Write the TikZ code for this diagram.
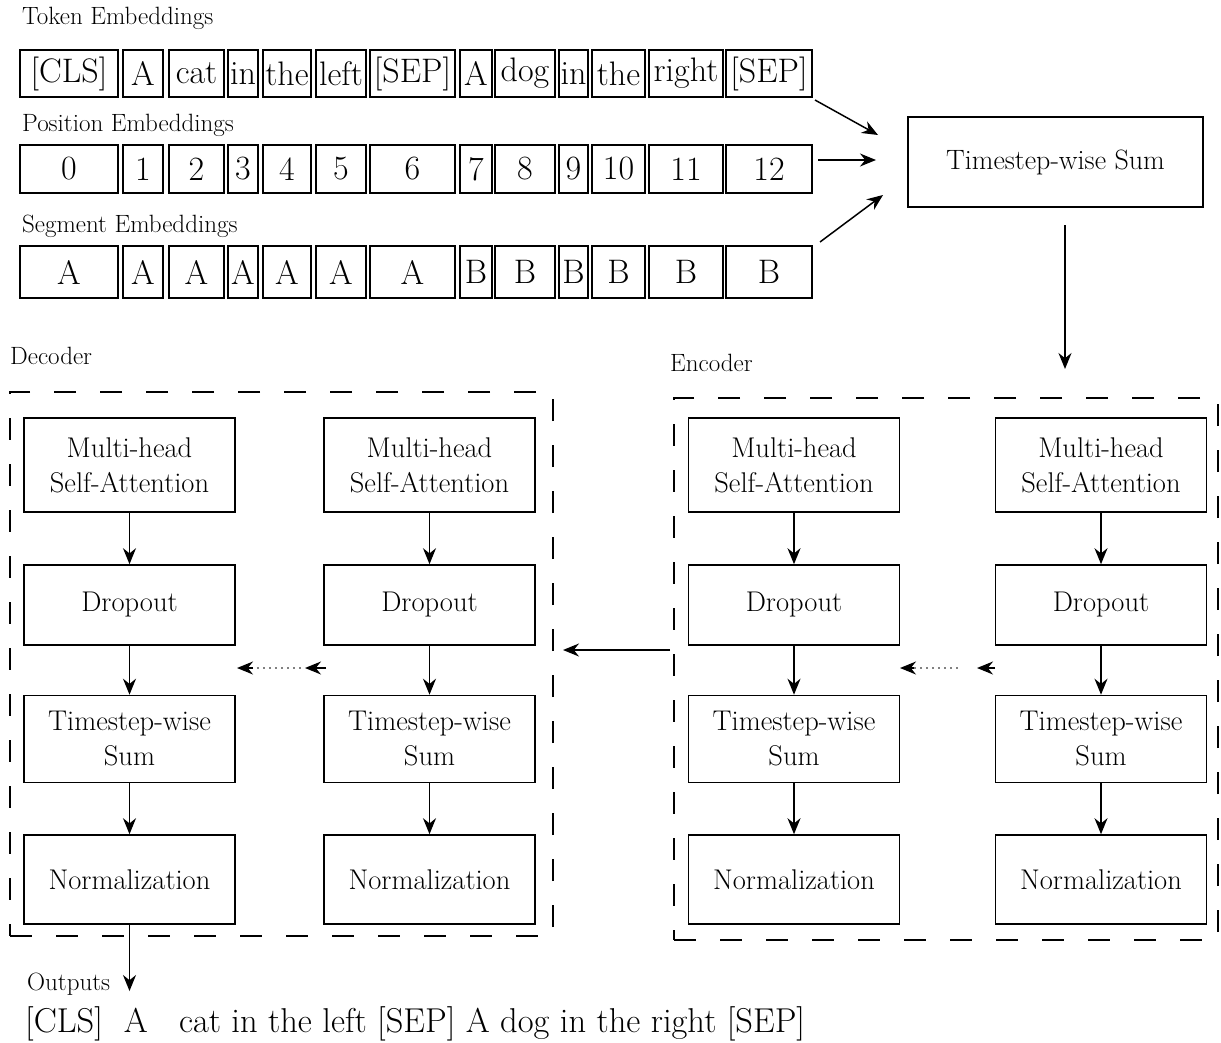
\documentclass[tikz,border=0pt]{standalone}
\usepackage{fontspec}
\usetikzlibrary{arrows.meta}
\begin{document}
\begin{tikzpicture}[x=1pt,y=-1pt,
  emb/.style={draw,line width=1.6pt,inner sep=0pt,font=\fontsize{34}{36}\selectfont},
  blk/.style={draw,line width=1.6pt,inner sep=0pt,align=center,minimum width=211pt,
              font=\fontsize{28.5}{35}\selectfont},
  grp/.style={draw,line width=1.6pt,dash pattern=on 22pt off 24pt,inner sep=0pt},
  lbl/.style={anchor=base west,inner sep=0pt,font=\fontsize{25}{28}\selectfont},
  arr/.style={-{Stealth[length=16pt,width=13pt]},line width=1.5pt},
  dots/.style={line width=1.6pt,dash pattern=on 0pt off 6pt,line cap=round},
]
\useasboundingbox (0,0) rectangle (1221,1042);

% ---- input embeddings: token / position / segment rows ----
\node[lbl] (lt) at (22,24) {Token Embeddings};
\node[lbl] (lp) at (22,131) {Position Embeddings};
\node[lbl] (ls) at (22,232) {Segment Embeddings};

\foreach \a/\b/\t/\p/\s [count=\i] in {
  20/118/{[CLS]}/0/A, 123/163/A/1/A, 169/224/cat/2/A, 228/258/in/3/A,
  263/311/the/4/A, 316/366/left/5/A, 370/455/{[SEP]}/6/A, 460/492/A/7/B,
  495/555/dog/8/B, 559/588/in/9/B, 592/645/the/10/B, 649/723/right/11/B,
  726/812/{[SEP]}/12/B}{
  \node[emb,minimum width={(\b-\a)*1pt},minimum height=47pt] (t\i) at ({(\a+\b)/2},73.5) {\t};
  \node[emb,minimum width={(\b-\a)*1pt},minimum height=48pt] (p\i) at ({(\a+\b)/2},169) {\p};
  \node[emb,minimum width={(\b-\a)*1pt},minimum height=52pt] (s\i) at ({(\a+\b)/2},272) {\s};
}

% ---- embedding sum ----
\node[draw,line width=1.6pt,minimum width=295pt,minimum height=90pt,
      font=\fontsize{28}{32}\selectfont] (sum) at (1055.5,162) {Timestep-wise Sum};

\coordinate (ta) at (815,100);  \coordinate (tb) at (878,135);
\coordinate (pa) at (818,160);  \coordinate (pb) at (876,160);
\coordinate (sa) at (820,242);  \coordinate (sb) at (883,195);
\draw[arr] (ta) -- (tb);
\draw[arr] (pa) -- (pb);
\draw[arr] (sa) -- (sb);

% ---- encoder / decoder groups ----
\node[grp,minimum width=543pt,minimum height=544pt] (dec) at (281.5,664) {};
\node[grp,minimum width=544pt,minimum height=542pt] (enc) at (946,669) {};
\node[lbl] (ldec) at (10,364) {Decoder};
\node[lbl] (lenc) at (670,371) {Encoder};

\coordinate (sumout) at (1065,225);
\coordinate (encin) at (1065,369);
\draw[arr] (sumout) -- (encin);

% four identical layer stacks
\foreach \n/\x in {dL/129.5, dR/429.5, eL/794, eR/1101}{
  \node[blk,minimum height=94pt] (\n1) at (\x,465) {Multi-head\\Self-Attention};
  \node[blk,minimum height=80pt] (\n2) at (\x,605) {Dropout};
  \node[blk,minimum height=87pt] (\n3) at (\x,739) {Timestep-wise\\Sum};
  \node[blk,minimum height=89pt] (\n4) at (\x,879.5) {Normalization};
  \draw[arr] (\n1) -- (\n2);
  \draw[arr] (\n2) -- (\n3);
  \draw[arr] (\n3) -- (\n4);
}

% links between stacked layers (dotted)
\coordinate (d1) at (326,668); \coordinate (d2) at (305,668);
\coordinate (d3) at (300,668); \coordinate (d4) at (253,668); \coordinate (d5) at (237,668);
\draw[arr] (d1) -- (d2);
\draw[dots] (d3) -- (d4);
\draw[arr] (d4) -- (d5);

\coordinate (e1) at (995,668); \coordinate (e2) at (977,668);
\coordinate (e3) at (957,668); \coordinate (e4) at (914,668); \coordinate (e5) at (900,668);
\draw[arr] (e1) -- (e2);
\draw[dots] (e3) -- (e4);
\draw[arr] (e4) -- (e5);

% encoder feeds decoder
\coordinate (encout) at (670,650);
\coordinate (decin) at (563,650);
\draw[arr] (encout) -- (decin);

% ---- outputs ----
\coordinate (outtip) at (129.5,991);
\draw[arr] (dL4) -- (outtip);
\node[lbl] (lout) at (27,990) {Outputs};
\node[anchor=base west,inner sep=0pt,font=\fontsize{34.5}{38}\selectfont] (outtext) at (25,1032)
  {[CLS]\ \ A\ \ \ cat in the left [SEP] A dog in the right [SEP]};
\end{tikzpicture}
\end{document}
